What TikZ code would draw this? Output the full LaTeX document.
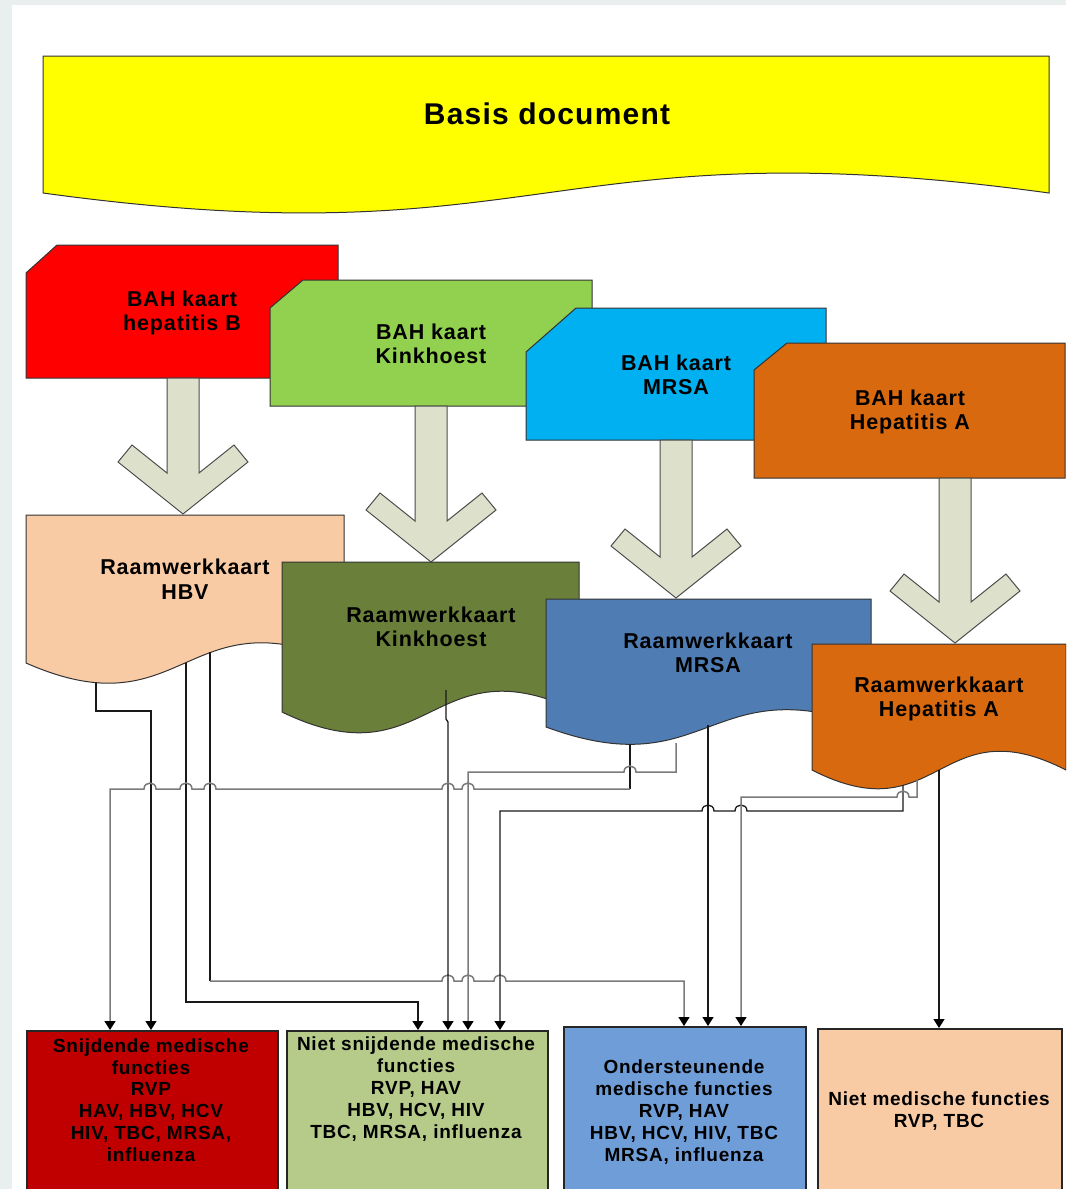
\documentclass[tikz,border=0pt]{standalone}
\usepackage{fontspec}
\setmainfont{Liberation Sans}[LetterSpace=4]
\usetikzlibrary{arrows.meta}
\definecolor{bgframe}{HTML}{E9EFEF}
\definecolor{peach}{HTML}{F9CBA5}
\definecolor{olive}{HTML}{6A7F3A}
\definecolor{mblue}{HTML}{4F7CB3}
\definecolor{orangec}{HTML}{D9690E}
\definecolor{arrowfill}{HTML}{DDE1CB}
\definecolor{yellowc}{RGB}{255,255,0}
\definecolor{cardgreen}{HTML}{92D050}
\definecolor{cardcyan}{HTML}{00B0F0}
\definecolor{boxred}{HTML}{C00000}
\definecolor{boxgreen}{HTML}{B6CB8A}
\definecolor{boxblue}{HTML}{6F9DD8}
\definecolor{wiregray}{HTML}{7A7A7A}
\newcommand\wavedoc[6]{\path[shapeline,fill=#1] (#2,#3) -- (#4,#3) -- (#4,#5) .. controls ({(#2+#4)/2},{#5-#6}) and ({(#2+#4)/2},{#5+#6}) .. (#2,#5) -- cycle;}
\newcommand\snipcard[8]{\path[shapeline,fill=#1] (#2,#7) -- (#8,#3) -- (#4,#3) -- (#4,#5) -- (#2,#5) -- cycle;}
\newcommand\bigarrow[3]{\path[arrowshape] (#1-16,#2) -- (#1-16,#3-41) -- (#1-51,#3-69) -- (#1-65,#3-52) -- (#1,#3) -- (#1+65,#3-52) -- (#1+51,#3-69) -- (#1+16,#3-41) -- (#1+16,#2) -- cycle;}
\tikzset{
  shapeline/.style={draw=black!80, line width=1pt},
  arrowshape/.style={draw=black!70, line width=1pt, fill=arrowfill},
  cardtext/.style={align=center, font=\fontsize{21.5}{24.5}\selectfont\bfseries, inner sep=0pt},
  boxtext/.style={align=center, font=\fontsize{19}{21.8}\selectfont\bfseries, inner sep=0pt},
  bottombox/.style={draw=black!85, line width=1.5pt, anchor=north west, minimum height=220pt, inner sep=0pt},
  wire/.style={line width=1.3pt, line join=miter},
  blackw/.style={wire, draw=black!90},
  grayw/.style={wire, line width=1.5pt, draw=wiregray},
  tip/.style={-{Triangle[width=11pt,length=9pt,color=black]}},
}
\begin{document}
\begin{tikzpicture}[x=1pt,y=-1pt]
\useasboundingbox (0,0) rectangle (1066,1189);
\clip (0,0) rectangle (1066,1189);
\fill[bgframe] (0,0) rectangle (1066,1189);
\fill[white] (12,5) rectangle (1066,1189);

% basis document
\wavedoc{yellowc}{43}{56}{1049}{193}{69}
\node[font=\fontsize{30}{36}\selectfont\bfseries, inner sep=0pt] (basis) at (547,114) {Basis document};

% BAH cards
\snipcard{red}{26}{245}{338}{378}{}{273}{57}
\node[cardtext] (bahB) at (182,313) {BAH kaart\\hepatitis B};
\snipcard{cardgreen}{270}{280}{592}{406}{}{308}{303}
\node[cardtext] (bahK) at (431,344) {BAH kaart\\Kinkhoest};
\snipcard{cardcyan}{526}{308}{826}{440}{}{352}{576}
\node[cardtext] (bahM) at (676,375) {BAH kaart\\MRSA};
\snipcard{orangec}{754}{343}{1065}{478}{}{370}{787}
\node[cardtext] (bahA) at (910,412) {BAH kaart\\Hepatitis A};

% big arrows
\bigarrow{183}{378}{514}
\bigarrow{431}{406}{562}
\bigarrow{676}{440}{598}
\bigarrow{955}{478}{643}

% Raamwerkkaarten
\wavedoc{peach}{26}{515}{344}{663}{70}
\node[cardtext] (rwB) at (185,579) {Raamwerkkaart\\HBV};
\wavedoc{olive}{282}{562}{579}{712}{72}
\node[cardtext] (rwK) at (431,627) {Raamwerkkaart\\Kinkhoest};
\wavedoc{mblue}{546}{599}{871}{727}{60}
\node[cardtext] (rwM) at (708,653) {Raamwerkkaart\\MRSA};
\wavedoc{orangec}{812}{644}{1066}{770}{65}
\node[cardtext] (rwA) at (939,699) {Raamwerkkaart\\Hepatitis A};

% bottom boxes
\node[bottombox, fill=boxred, minimum width=251pt] (sn) at (26,1030) {};
\node[boxtext] (snt) at (151,1100) {Snijdende medische\\functies\\RVP\\HAV, HBV, HCV\\HIV, TBC, MRSA,\\influenza};
\node[bottombox, fill=boxgreen, minimum width=261pt] (ns) at (286,1030) {};
\node[boxtext] (nst) at (416,1089) {Niet snijdende medische\\functies\\RVP, HAV\\HBV, HCV, HIV\\TBC, MRSA, influenza};
\node[bottombox, fill=boxblue, minimum width=242pt] (od) at (563,1026) {};
\node[boxtext] (odt) at (684,1112) {Ondersteunende\\medische functies\\RVP, HAV\\HBV, HCV, HIV, TBC\\MRSA, influenza};
\node[bottombox, fill=peach, minimum width=244pt] (nm) at (817,1028) {};
\node[boxtext] (nmt) at (939,1111) {Niet medische functies\\RVP, TBC};

% connector end points
\coordinate (hbvA) at (96,683);
\coordinate (hbvB) at (186,663);
\coordinate (hbvC) at (210,652);
\coordinate (kinK) at (446,690);
\coordinate (mrsD) at (630,744);
\coordinate (mrsE) at (676,743);
\coordinate (mrsF) at (708,725);
\coordinate (hepG) at (903,785);
\coordinate (hepH) at (917,780);
\coordinate (hepI) at (939,770);
\coordinate (cD) at (630,789);
\coordinate (cC) at (210,981);

% connectors
\draw[blackw, tip] (hbvA) -- (96,711) -- (151,711) -- (sn.north -| 151,0);
\draw[blackw, tip] (hbvB) -- (186,1002) -- (418,1002) -- (ns.north -| 418,0);
\draw[blackw] (hbvC) -- (cC);
\draw[grayw, tip] (cC) -- (442,981) .. controls (442,973) and (454,973) .. (454,981) -- (462,981) .. controls (462,973) and (474,973) .. (474,981) -- (494,981) .. controls (494,973) and (506,973) .. (506,981) -- (684,981) -- (od.north -| 684,0);
\draw[blackw, tip] (kinK) -- (446,719) -- (448,722) -- (ns.north -| 448,0);
\draw[blackw] (mrsD) -- (cD);
\draw[grayw, tip] (cD) -- (474,789) .. controls (474,781) and (462,781) .. (462,789) -- (454,789) .. controls (454,781) and (442,781) .. (442,789) -- (216,789) .. controls (216,781) and (204,781) .. (204,789) -- (192,789) .. controls (192,781) and (180,781) .. (180,789) -- (156,789) .. controls (156,781) and (144,781) .. (144,789) -- (110,789) -- (sn.north -| 110,0);
\draw[grayw, tip] (mrsE) -- (676,772) -- (636,772) .. controls (636,764) and (624,764) .. (624,772) -- (468,772) -- (ns.north -| 468,0);
\draw[blackw, tip] (mrsF) -- (od.north -| mrsF);
\draw[blackw, tip] (hepG) -- (903,811) -- (747,811) .. controls (747,803) and (735,803) .. (735,811) -- (714,811) .. controls (714,803) and (702,803) .. (702,811) -- (500,811) -- (ns.north -| 500,0);
\draw[grayw, tip] (hepH) -- (917,797) -- (909,797) .. controls (909,789) and (897,789) .. (897,797) -- (741,797) -- (od.north -| 741,0);
\draw[blackw, tip] (hepI) -- (nm.north -| hepI);
\end{tikzpicture}
\end{document}
